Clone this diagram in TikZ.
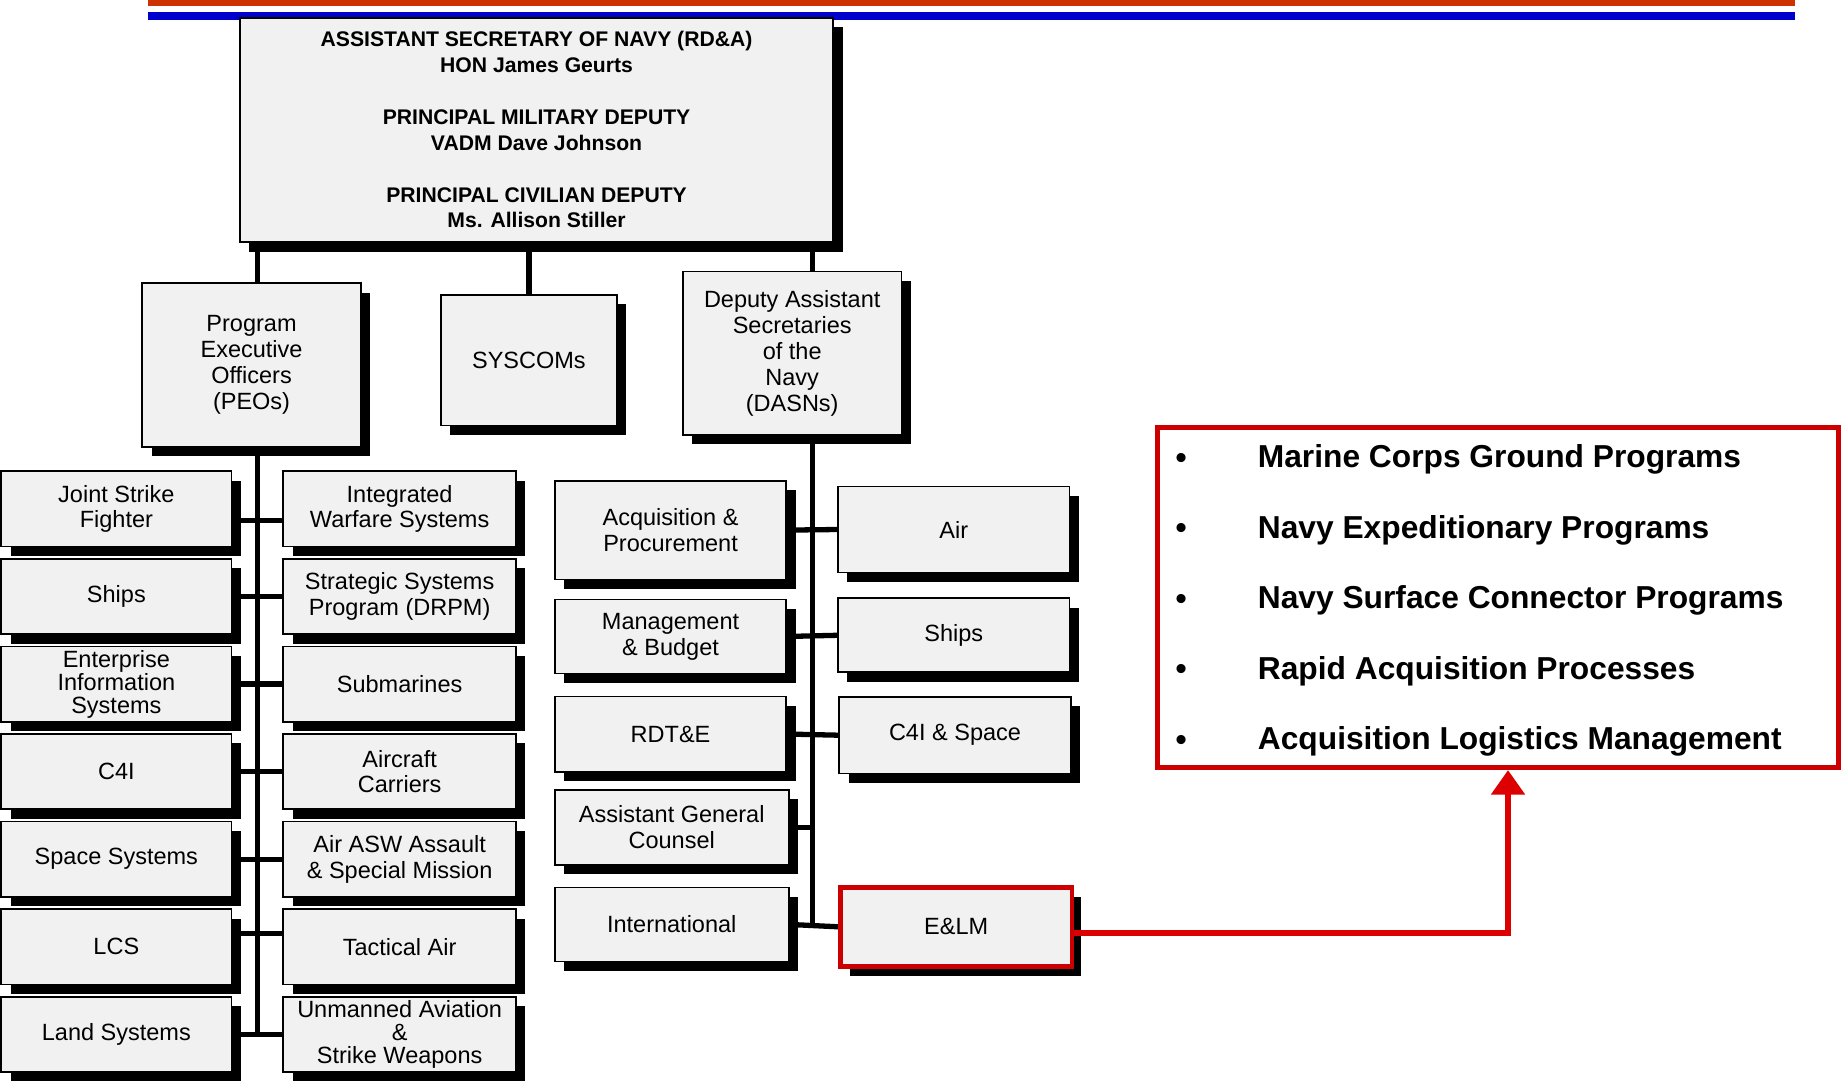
\documentclass[tikz,border=0pt]{standalone}
\usepackage{fontspec}
\setmainfont{Liberation Sans}
\usetikzlibrary{shadows,backgrounds,arrows.meta}
\definecolor{boxgray}{RGB}{241,241,241}
\definecolor{stripered}{RGB}{204,51,0}
\definecolor{stripeblue}{RGB}{0,0,204}
\definecolor{framered}{RGB}{204,0,0}
\definecolor{arrowred}{RGB}{221,0,0}

\begin{document}
\begin{tikzpicture}
[x=1pt,y=-1pt,%
  every node/.style={inner sep=0pt},%
  orgbox/.style={draw,line width=1.5pt,fill=boxgray,align=center,
    font=\fontsize{20}{22}\selectfont,
    drop shadow={shadow xshift=8pt,shadow yshift=-8pt,fill=black,opacity=1}},%
  peobox/.style={orgbox,minimum width=196pt,minimum height=64pt},%
  dasnbox/.style={orgbox,minimum width=197pt,minimum height=64pt},%
  conn/.style={line width=4.5pt},%
  tight/.style={font=\fontsize{20}{19.5}\selectfont}]
\useasboundingbox (0,0) rectangle (1568,920);
% stripes
\draw[stripered,line width=5pt] (126,2.5) -- (1527,2.5);
\draw[stripeblue,line width=7pt] (126,13.5) -- (1527,13.5);

\coordinate (peobus) at (219,0);
\coordinate (dasnbus) at (691,0);

\node[orgbox,minimum width=505pt,minimum height=191pt,
  font=\bfseries\fontsize{18}{22}\selectfont] (asn) at (456.5,110.5)
  {ASSISTANT SECRETARY OF NAVY (RD\&A)\\HON James Geurts\\[22pt]
   PRINCIPAL MILITARY DEPUTY\\VADM Dave Johnson\\[22pt]
   PRINCIPAL CIVILIAN DEPUTY\\Ms. Allison Stiller};

\node[orgbox,minimum width=186pt,minimum height=139pt] (peo) at (214,310.5)
  {Program\\Executive\\Officers\\(PEOs)};
\node[orgbox,minimum width=150pt,minimum height=111pt] (syscom) at (450,306.5)
  {SYSCOMs};
\node[orgbox,minimum width=186pt,minimum height=139pt] (dasn) at (674,300.5)
  {Deputy Assistant\\Secretaries\\of the\\Navy\\(DASNs)};

% PEOs
\node[peobox] (jsf) at (99,433) {Joint Strike\\Fighter};
\node[peobox] (shipsp) at (99,507.5) {Ships};
\node[peobox,tight] (eis) at (99,582) {Enterprise\\Information\\Systems};
\node[peobox] (cfouri) at (99,656.5) {C4I};
\node[peobox] (space) at (99,731) {Space Systems};
\node[peobox] (lcs) at (99,805.5) {LCS};
\node[peobox] (land) at (99,880) {Land Systems};

\node[peobox,minimum width=198pt] (iws) at (340,433) {Integrated\\Warfare Systems};
\node[peobox,minimum width=198pt] (ssp) at (340,507.5) {Strategic Systems\\Program (DRPM)};
\node[peobox,minimum width=198pt] (subs) at (340,582) {Submarines};
\node[peobox,minimum width=198pt] (cvn) at (340,656.5) {Aircraft\\Carriers};
\node[peobox,minimum width=198pt] (asw) at (340,731) {Air ASW Assault\\\& Special Mission};
\node[peobox,minimum width=198pt] (tacair) at (340,805.5) {Tactical Air};
\node[peobox,minimum width=198pt,tight] (uav) at (340,880) {Unmanned Aviation\\\&\\Strike Weapons};

% DASNs
\node[dasnbox,minimum height=84pt] (acq) at (570.5,451) {Acquisition \&\\Procurement};
\node[dasnbox,minimum height=63pt] (mgmt) at (570.5,541.5) {Management\\\& Budget};
\node[dasnbox] (rdte) at (570.5,624.5) {RDT\&E};
\node[dasnbox,minimum width=199pt] (agc) at (571.5,704) {Assistant General\\Counsel};
\node[dasnbox,minimum width=199pt,minimum height=63pt] (intl) at (571.5,786.5) {International};

\node[dasnbox,minimum height=73pt] (air) at (811.5,450.5) {Air};
\node[dasnbox,minimum height=63pt] (shipsd) at (811.5,540.5) {Ships};
\node[dasnbox,minimum height=65pt] (cspace) at (812.5,625.5) {C4I \& Space};
\node[dasnbox,minimum height=67pt,draw=framered,line width=4pt] (elm) at (813.5,788.5) {E\&LM};

\begin{scope}[on background layer]
  \draw[conn] (asn.south -| peobus) -- (peo.north -| peobus);
  \draw[conn] (asn.south -| syscom.north) -- (syscom.north);
  \draw[conn] (asn.south -| dasnbus) -- (dasn.north -| dasnbus);
  \draw[conn] (peo.south -| peobus) -- (land.east -| peobus);
  \foreach \a/\b/\s in {jsf/iws/-10,shipsp/ssp/0,eis/subs/0,cfouri/cvn/0,
      space/asw/0,lcs/tacair/11,land/uav/0}
    \draw[conn] ([yshift=\s pt]\a.east) -- ([yshift=\s pt]\b.west);
  \draw[conn] (dasn.south -| dasnbus) -- (intl.east -| dasnbus);
  \foreach \a/\b in {acq/air,mgmt/shipsd,rdte/cspace,intl/elm}
    \draw[conn] (\a.east) -- (\b.west);
  \draw[conn] (agc.east) -- (agc.east -| dasnbus);
\end{scope}

% E&LM portfolio
\node[draw=framered,line width=4.3pt,minimum width=579pt,minimum height=289pt]
  (elist) at (1274.5,508.5) {};
\foreach \t [count=\i] in {Marine Corps Ground Programs,Navy Expeditionary Programs,
    Navy Surface Connector Programs,Rapid Acquisition Processes,
    Acquisition Logistics Management}
{
  \node[font=\bfseries\fontsize{27}{31}\selectfont] (bul\i) at (1005,332+60*\i) {\textbullet};
  \node[anchor=base west,font=\bfseries\fontsize{27}{31}\selectfont] (item\i)
    at (1070,338+60*\i) {\t};
}
\draw[arrowred,line width=5pt,-{Triangle[width=28pt,length=21pt]}]
  ([yshift=-5.5pt]elm.east) -| ([xshift=8.5pt]elist.south);
\end{tikzpicture}
\end{document}
